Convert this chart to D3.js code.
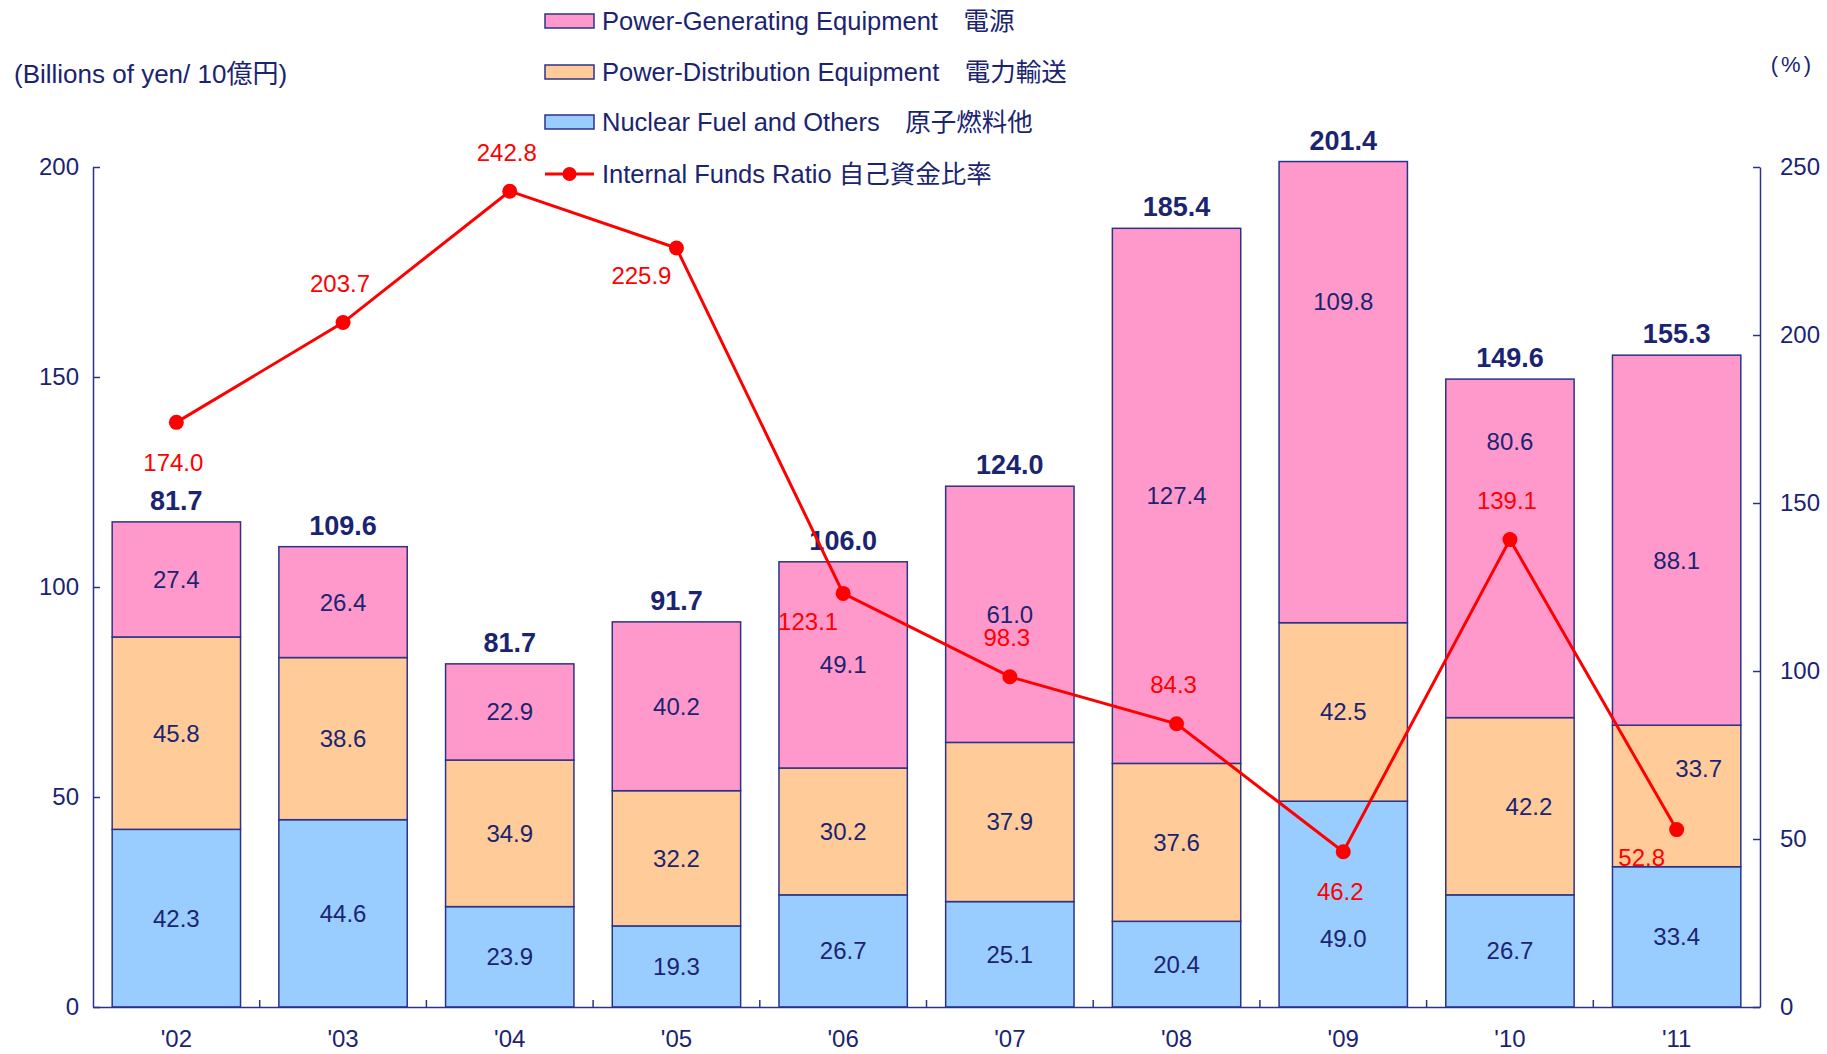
<!DOCTYPE html>
<html>
<head>
<meta charset="utf-8">
<script src="https://cdn.jsdelivr.net/npm/d3@7"></script>
<style>
  html, body { margin: 0; padding: 0; background: #fff; }
  svg { display: block; font-family: "Liberation Sans", Arial, "Noto Sans CJK JP", sans-serif; }
</style>
</head>
<body>
<svg id="chart" width="1827" height="1054"></svg>
<script>
const years = ["'02", "'03", "'04", "'05", "'06", "'07", "'08", "'09", "'10", "'11"];
const nuclearFuel = [42.3, 44.6, 23.9, 19.3, 26.7, 25.1, 20.4, 49.0, 26.7, 33.4];
const distribution = [45.8, 38.6, 34.9, 32.2, 30.2, 37.9, 37.6, 42.5, 42.2, 33.7];
const generating = [27.4, 26.4, 22.9, 40.2, 49.1, 61.0, 127.4, 109.8, 80.6, 88.1];
const totalLabels = ["81.7", "109.6", "81.7", "91.7", "106.0", "124.0", "185.4", "201.4", "149.6", "155.3"];
const fundsRatio = [174.0, 203.7, 242.8, 225.9, 123.1, 98.3, 84.3, 46.2, 139.1, 52.8];
const leftTicks = [0, 50, 100, 150, 200];
const rightTicks = [0, 50, 100, 150, 200, 250];

const series = [
  { key: 'nuclear', values: nuclearFuel, color: '#99ccff', label: 'Nuclear Fuel and Others\u3000原子燃料他' },
  { key: 'dist', values: distribution, color: '#ffcc99', label: 'Power-Distribution Equipment\u3000電力輸送' },
  { key: 'gen', values: generating, color: '#ff99cc', label: 'Power-Generating Equipment\u3000電源' },
];

// label placement tweaks (layout only)
const segNudge = {
  "'09": { nuclear: [0, 34], gen: [0, -91] },
  "'10": { dist: [19, 0], gen: [0, -107] },
  "'11": { dist: [22, -27], gen: [0, 20] },
};
const ratioLabelPos = ['below', 'above', 'above', 'left', 'left', 'above', 'above', 'below', 'above', 'left'];

const navy = '#1b2470';
const axisColor = '#2b3388';
const margin = { left: 93, right: 67, top: 167, bottom: 47 };
const width = 1827;
const height = 1054;

const svg = d3.select('#chart');

const x = d3.scaleBand()
  .domain(years)
  .range([margin.left, width - margin.right])
  .paddingInner(0.23)
  .paddingOuter(0.115);
const y = d3.scaleLinear().domain([0, 200]).range([height - margin.bottom, margin.top]);
const y2 = d3.scaleLinear().domain([0, 250]).range([height - margin.bottom, margin.top]);

const rows = years.map((yr, i) => {
  const r = { year: yr };
  series.forEach((s) => { r[s.key] = s.values[i]; });
  return r;
});
const stacked = d3.stack().keys(series.map((s) => s.key))(rows);

// bars
stacked.forEach((layer, li) => {
  const s = series[li];
  svg.append('g')
    .selectAll('rect')
    .data(layer)
    .join('rect')
    .attr('x', (d) => x(d.data.year))
    .attr('y', (d) => y(d[1]))
    .attr('width', x.bandwidth())
    .attr('height', (d) => y(d[0]) - y(d[1]))
    .attr('fill', s.color)
    .attr('stroke', axisColor)
    .attr('stroke-width', 1.5);
});

// segment labels
stacked.forEach((layer, li) => {
  const s = series[li];
  svg.append('g')
    .selectAll('text')
    .data(layer)
    .join('text')
    .attr('x', (d) => {
      const n = segNudge[d.data.year] && segNudge[d.data.year][s.key];
      return x(d.data.year) + x.bandwidth() / 2 + (n ? n[0] : 0);
    })
    .attr('y', (d) => {
      const n = segNudge[d.data.year] && segNudge[d.data.year][s.key];
      return (y(d[0]) + y(d[1])) / 2 + (n ? n[1] : 0);
    })
    .attr('text-anchor', 'middle')
    .attr('dominant-baseline', 'central')
    .attr('fill', navy)
    .attr('font-size', 24)
    .text((d) => d.data[s.key].toFixed(1));
});

// totals
const topLayer = stacked[stacked.length - 1];
svg.append('g')
  .selectAll('text')
  .data(topLayer)
  .join('text')
  .attr('x', (d) => x(d.data.year) + x.bandwidth() / 2)
  .attr('y', (d) => y(d[1]) - 12)
  .attr('text-anchor', 'middle')
  .attr('fill', navy)
  .attr('font-size', 27)
  .attr('font-weight', 'bold')
  .text((d, i) => totalLabels[i]);

// axes
const leftAxis = svg.append('g')
  .attr('transform', `translate(${margin.left},0)`)
  .call(d3.axisRight(y).tickValues(leftTicks).tickSize(7).tickSizeOuter(0).tickFormat(d3.format('d')));
leftAxis.selectAll('text').attr('x', -14).attr('text-anchor', 'end');

const rightAxis = svg.append('g')
  .attr('transform', `translate(${width - margin.right},0)`)
  .call(d3.axisLeft(y2).tickValues(rightTicks).tickSize(7).tickSizeOuter(0).tickFormat(d3.format('d')));
rightAxis.selectAll('text').attr('x', 20).attr('text-anchor', 'start');

const bottomAxis = svg.append('g')
  .attr('transform', `translate(0,${height - margin.bottom})`)
  .call(d3.axisBottom(x).tickSize(0).tickSizeOuter(0));
bottomAxis.selectAll('text').attr('dy', 0).attr('y', 40);

// category separator ticks on the baseline
const step = x.step();
const bounds = d3.range(years.length + 1).map((k) => x(years[0]) - x.paddingOuter() * step + k * step);
bottomAxis.append('g')
  .selectAll('line')
  .data(bounds.slice(1, -1))
  .join('line')
  .attr('x1', (d) => d)
  .attr('x2', (d) => d)
  .attr('y1', 0)
  .attr('y2', -7)
  .attr('stroke', axisColor)
  .attr('stroke-width', 1.5);

[leftAxis, rightAxis, bottomAxis].forEach((g) => {
  g.selectAll('.domain, .tick line').attr('stroke', axisColor).attr('stroke-width', 1.5);
  g.selectAll('text').attr('fill', navy).attr('font-size', 24);
  g.attr('font-family', null).attr('font-size', null);
});

// funds ratio line
const cx = (i) => x(years[i]) + x.bandwidth() / 2;
const line = d3.line().x((d, i) => cx(i)).y((d) => y2(d));
svg.append('path')
  .datum(fundsRatio)
  .attr('d', line)
  .attr('fill', 'none')
  .attr('stroke', '#ff0000')
  .attr('stroke-width', 3);
svg.append('g')
  .selectAll('circle')
  .data(fundsRatio)
  .join('circle')
  .attr('cx', (d, i) => cx(i))
  .attr('cy', (d) => y2(d))
  .attr('r', 7.5)
  .attr('fill', '#ff0000');
svg.append('g')
  .selectAll('text')
  .data(fundsRatio)
  .join('text')
  .attr('x', (d, i) => cx(i) + (ratioLabelPos[i] === 'left' ? -35 : -3))
  .attr('y', (d, i) => {
    const p = ratioLabelPos[i];
    return y2(d) + (p === 'above' ? -39 : p === 'below' ? 40 : 28);
  })
  .attr('text-anchor', 'middle')
  .attr('dominant-baseline', 'central')
  .attr('fill', '#ff0000')
  .attr('font-size', 24)
  .text((d) => d.toFixed(1));

// axis titles
svg.append('text')
  .attr('x', 14).attr('y', 74)
  .attr('dominant-baseline', 'central')
  .attr('fill', navy).attr('font-size', 26)
  .text('(Billions of yen/ 10億円)');
svg.append('text')
  .attr('x', 1814).attr('y', 64)
  .attr('text-anchor', 'end')
  .attr('dominant-baseline', 'central')
  .attr('fill', navy).attr('font-size', 22)
  .attr('letter-spacing', 3)
  .text('(%)');

// legend
const legendItems = [series[2], series[1], series[0]];
const lg = svg.append('g').attr('transform', 'translate(545,0)');
const rowY = [21, 72, 122, 174];
legendItems.forEach((s, i) => {
  lg.append('rect')
    .attr('x', 0).attr('y', rowY[i] - 7)
    .attr('width', 49).attr('height', 14)
    .attr('fill', s.color)
    .attr('stroke', axisColor).attr('stroke-width', 1.5);
  lg.append('text')
    .attr('x', 57).attr('y', rowY[i])
    .attr('dominant-baseline', 'central')
    .attr('fill', navy).attr('font-size', 25.5)
    .text(s.label);
});
lg.append('line')
  .attr('x1', 0).attr('x2', 49).attr('y1', rowY[3]).attr('y2', rowY[3])
  .attr('stroke', '#ff0000').attr('stroke-width', 3);
lg.append('circle').attr('cx', 24.5).attr('cy', rowY[3]).attr('r', 7).attr('fill', '#ff0000');
lg.append('text')
  .attr('x', 57).attr('y', rowY[3])
  .attr('dominant-baseline', 'central')
  .attr('fill', navy).attr('font-size', 25.5)
  .text('Internal Funds Ratio 自己資金比率');
</script>
</body>
</html>
